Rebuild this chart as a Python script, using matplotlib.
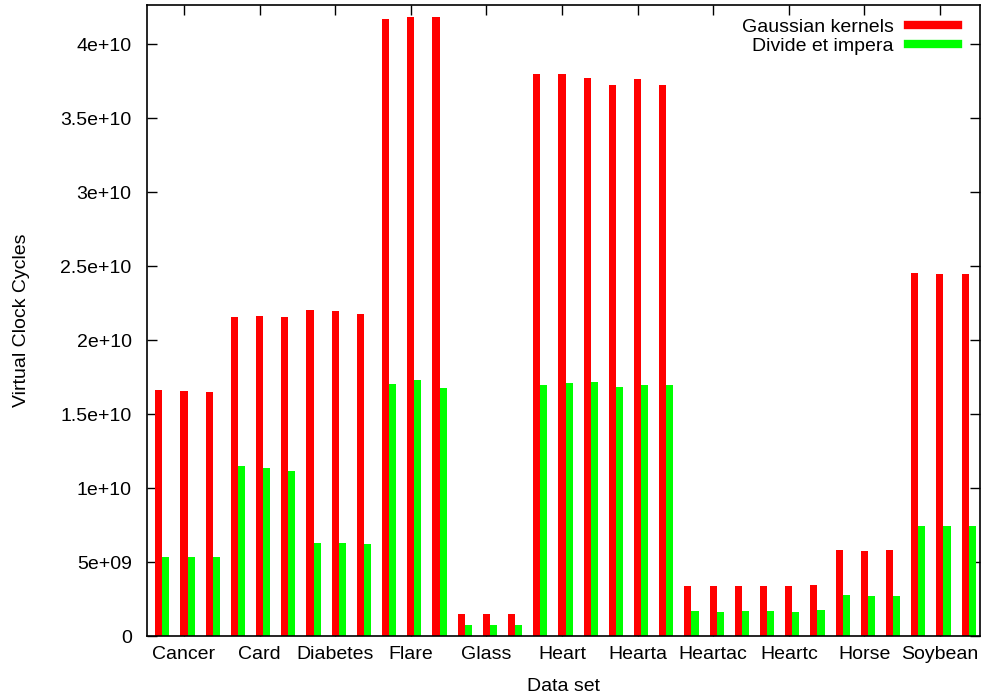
"""
Virtual clock cycles per data set: Gaussian kernels vs Divide et impera
gnuplot-style clustered histogram redone with matplotlib
"""

import numpy as np
import matplotlib
matplotlib.use("Agg")
import matplotlib.pyplot as plt
from matplotlib.lines import Line2D

plt.rcParams["font.family"] = ["Liberation Sans", "DejaVu Sans"]

DATASETS = ["Cancer", "Card", "Diabetes", "Flare", "Glass", "Heart",
            "Hearta", "Heartac", "Heartc", "Horse", "Soybean"]
RUNS_PER_SET = 3

# three runs per data set
GAUSSIAN = [
    1.662e10, 1.655e10, 1.650e10,
    2.157e10, 2.160e10, 2.153e10,
    2.205e10, 2.194e10, 2.173e10,
    4.171e10, 4.185e10, 4.185e10,
    1.47e9, 1.47e9, 1.47e9,
    3.797e10, 3.800e10, 3.770e10,
    3.725e10, 3.766e10, 3.723e10,
    3.38e9, 3.38e9, 3.38e9,
    3.38e9, 3.38e9, 3.45e9,
    5.79e9, 5.77e9, 5.80e9,
    2.450e10, 2.446e10, 2.446e10,
]
DIVIDE = [
    5.34e9, 5.34e9, 5.34e9,
    1.149e10, 1.137e10, 1.113e10,
    6.28e9, 6.30e9, 6.24e9,
    1.700e10, 1.728e10, 1.674e10,
    0.72e9, 0.72e9, 0.72e9,
    1.696e10, 1.712e10, 1.716e10,
    1.685e10, 1.698e10, 1.696e10,
    1.67e9, 1.64e9, 1.67e9,
    1.67e9, 1.65e9, 1.76e9,
    2.77e9, 2.73e9, 2.73e9,
    7.45e9, 7.45e9, 7.43e9,
]

Y_TICKS = [0, 5e9, 1e10, 1.5e10, 2e10, 2.5e10, 3e10, 3.5e10, 4e10]
Y_TICK_LABELS = ["0", "5e+09", "1e+10", "1.5e+10", "2e+10", "2.5e+10",
                 "3e+10", "3.5e+10", "4e+10"]

RED = "#ff0000"
GREEN = "#00ff00"
BAR_W = 0.28
FS = 14


def main():
    fig = plt.figure(figsize=(9.81, 6.98), dpi=100)
    ax = fig.add_axes([0.1498, 0.0888, 0.8492, 0.904])
    ax.set_axisbelow(True)

    x = np.arange(len(GAUSSIAN))
    ax.bar(x, GAUSSIAN, width=BAR_W, color=RED, linewidth=0)
    ax.bar(x + BAR_W, DIVIDE, width=BAR_W, color=GREEN, linewidth=0)

    # one tick per data set, at the middle run
    centers = np.arange(len(DATASETS)) * RUNS_PER_SET + 1
    ax.set_xticks(centers)
    ax.set_xticklabels(DATASETS)
    ax.set_yticks(Y_TICKS)
    ax.set_yticklabels(Y_TICK_LABELS)

    ax.set_xlim(-0.47, 32.59)
    ax.set_ylim(0, 4.264e10)

    ax.tick_params(axis="both", direction="in", length=7, width=1,
                   top=True, right=True, labelsize=FS, colors="black")
    ax.tick_params(axis="x", pad=7)
    ax.tick_params(axis="y", pad=11)
    for s in ax.spines.values():
        s.set_linewidth(1.2)
        s.set_zorder(3)

    ax.set_xlabel("Data set", fontsize=FS, labelpad=11)
    ax.set_ylabel("Virtual Clock Cycles", fontsize=FS, labelpad=22)

    handles = [Line2D([], [], color=RED, lw=6),
               Line2D([], [], color=GREEN, lw=6)]
    ax.legend(handles, ["Gaussian kernels", "Divide et impera"],
              loc="upper right", bbox_to_anchor=(0.99, 1.0), frameon=False,
              markerfirst=False, handlelength=2.6, handletextpad=0.7,
              labelspacing=0.05, fontsize=FS, borderaxespad=0.3)

    fig.savefig("out.png", dpi=100)


if __name__ == "__main__":
    main()
